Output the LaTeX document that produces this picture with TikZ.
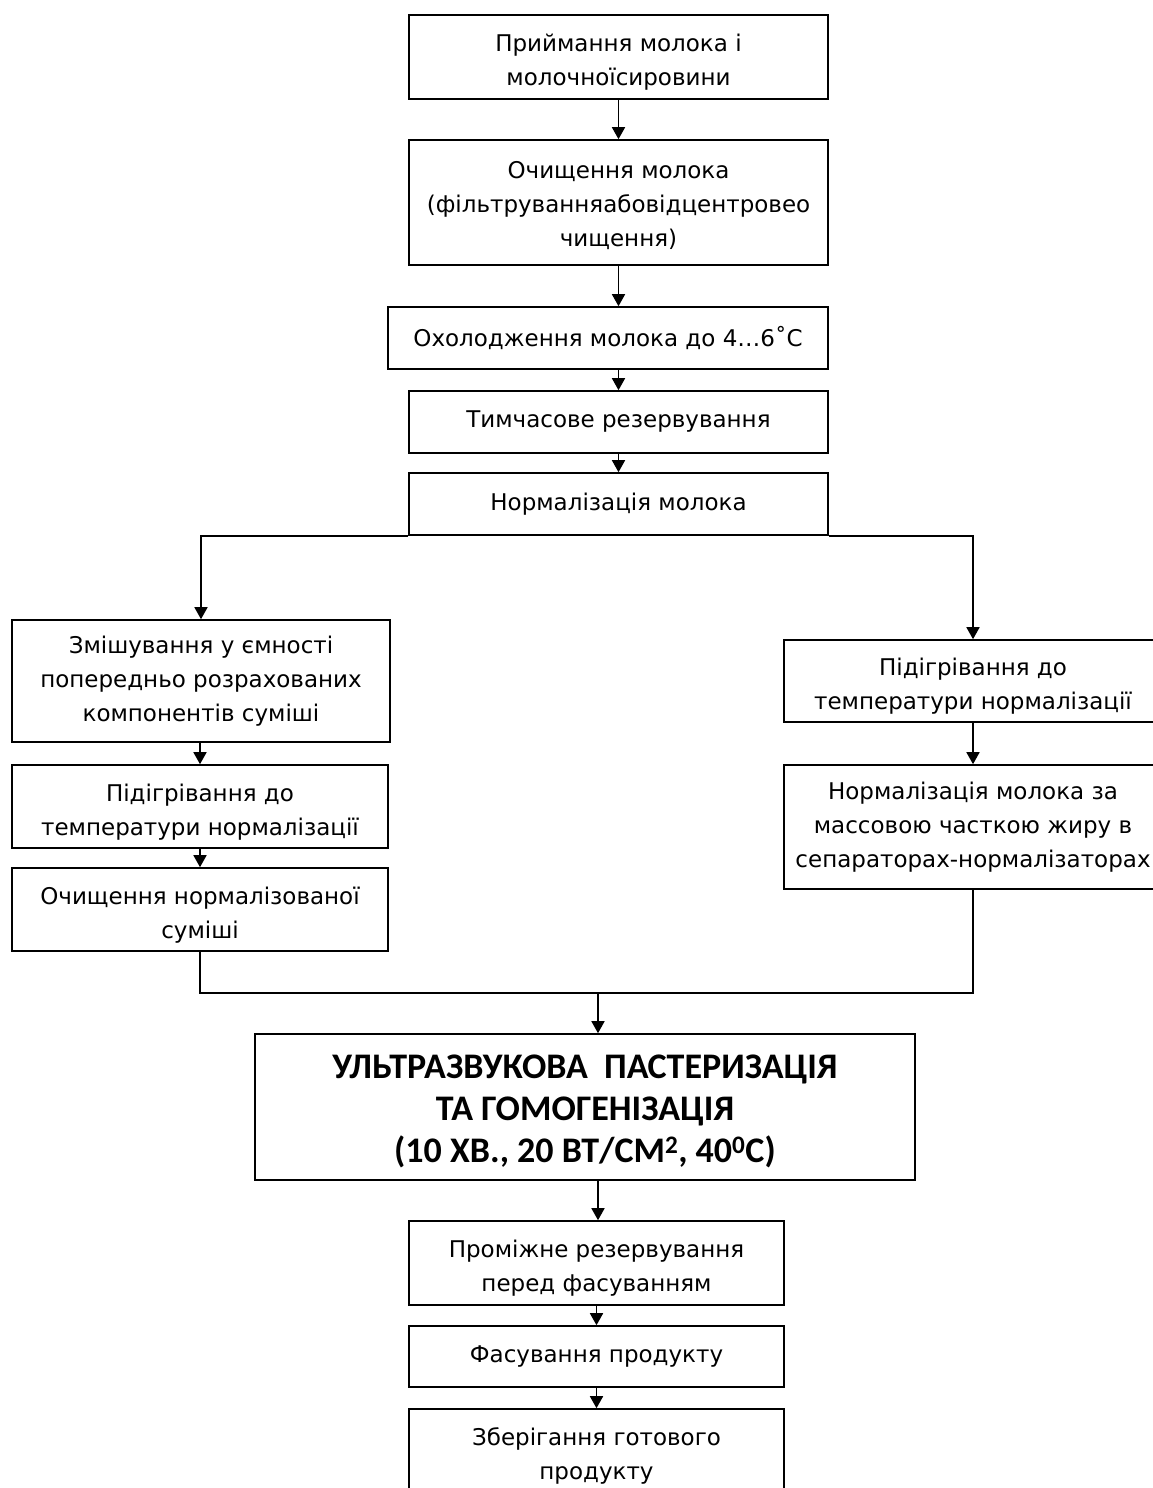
\documentclass[tikz,border=0pt]{standalone}
\usepackage{fontspec}
\setmainfont{DejaVu Sans}
\newfontfamily\carl{Carlito}
\usetikzlibrary{arrows.meta}
\newcommand{\fl}[1]{\rule{0pt}{#1}}
\tikzset{
  x=1pt,y=-1pt,
  box/.style={draw=black,line width=1.6pt,rectangle,align=center,inner sep=0pt,
    font=\fontsize{23}{34}\selectfont},
  bigbox/.style={draw=black,line width=1.6pt,rectangle,align=center,inner sep=0pt,
    font=\carl\bfseries\fontsize{36}{42}\selectfont},
  arr/.style={line width=1.6pt,-{Triangle[length=12pt,width=13pt]}},
  ln/.style={line width=1.6pt}
}
\begin{document}
\begin{tikzpicture}
\useasboundingbox[fill=white] (0,0) rectangle (1153,1488);
% main column
\node[box,minimum width=419pt,minimum height=84pt] (n1) at (618.5,57) {\fl{28pt}Приймання молока і\\молочноїсировини};
\node[box,minimum width=419pt,minimum height=125pt] (n2) at (618.5,202.5) {\fl{23pt}Очищення молока\\(фільтруванняабовідцентровео\\чищення)};
\node[box,minimum width=440pt,minimum height=62pt] (n3) at (608,338) {Охолодження молока до 4…6˚С};
\node[box,minimum width=419pt,minimum height=62pt] (n4) at (618.5,422) {Тимчасове резервування};
\node[box,minimum width=419pt,minimum height=62pt] (n5) at (618.5,504) {Нормалізація молока};
% left branch
\node[box,minimum width=378pt,minimum height=122pt] (n6) at (201,681) {Змішування у ємності\\попередньо розрахованих\\компонентів суміші};
\node[box,minimum width=376pt,minimum height=83pt] (n7) at (200,806.5) {\fl{28pt}Підігрівання до\\температури нормалізації};
\node[box,minimum width=376pt,minimum height=83pt] (n8) at (200,909.5) {\fl{28pt}Очищення нормалізованої\\суміші};
% right branch
\node[box,minimum width=378pt,minimum height=82pt] (n9) at (973,681) {\fl{28pt}Підігрівання до\\температури нормалізації};
\node[box,minimum width=378pt,minimum height=124pt] (n10) at (973,827) {Нормалізація молока за\\массовою часткою жиру в\\сепараторах-нормалізаторах};
% pasteurisation
\node[bigbox,minimum width=660pt,minimum height=146pt] (n11) at (585,1107) {\fl{33pt}УЛЬТРАЗВУКОВА\ \ ПАСТЕРИЗАЦІЯ\\ТА ГОМОГЕНІЗАЦІЯ\\(10 ХВ., 20 ВТ/СМ\textsuperscript{2}, 40\textsuperscript{0}С)};
% bottom column
\node[box,minimum width=375pt,minimum height=84pt] (n12) at (596.5,1263) {\fl{28pt}Проміжне резервування\\перед фасуванням};
\node[box,minimum width=375pt,minimum height=61pt] (n13) at (596.5,1356.5) {Фасування продукту};
\node[box,minimum width=375pt,minimum height=94pt] (n14) at (596.5,1456) {Зберігання готового\\продукту};
\coordinate (m) at (598,993);
% connectors
\draw[arr] (n1.south) -- (n2.north);
\draw[arr] (n2.south) -- (n2.south |- n3.north);
\draw[arr] (n4.north |- n3.south) -- (n4.north);
\draw[arr] (n4.south) -- (n5.north);
\draw[arr] (n5.south west) -| (n6.north);
\draw[arr] (n5.south east) -| (n9.north);
\draw[arr] (n6.south -| n7.north) -- (n7.north);
\draw[arr] (n7.south) -- (n8.north);
\draw[arr] (n9.south) -- (n10.north);
\draw[ln] (n8.south) |- (m);
\draw[ln] (n10.south) |- (m);
\draw[arr] (m) -- (m |- n11.north);
\draw[arr] (m |- n11.south) -- (m |- n12.north);
\draw[arr] (n12.south) -- (n13.north);
\draw[arr] (n13.south) -- (n14.north);
\end{tikzpicture}
\end{document}
